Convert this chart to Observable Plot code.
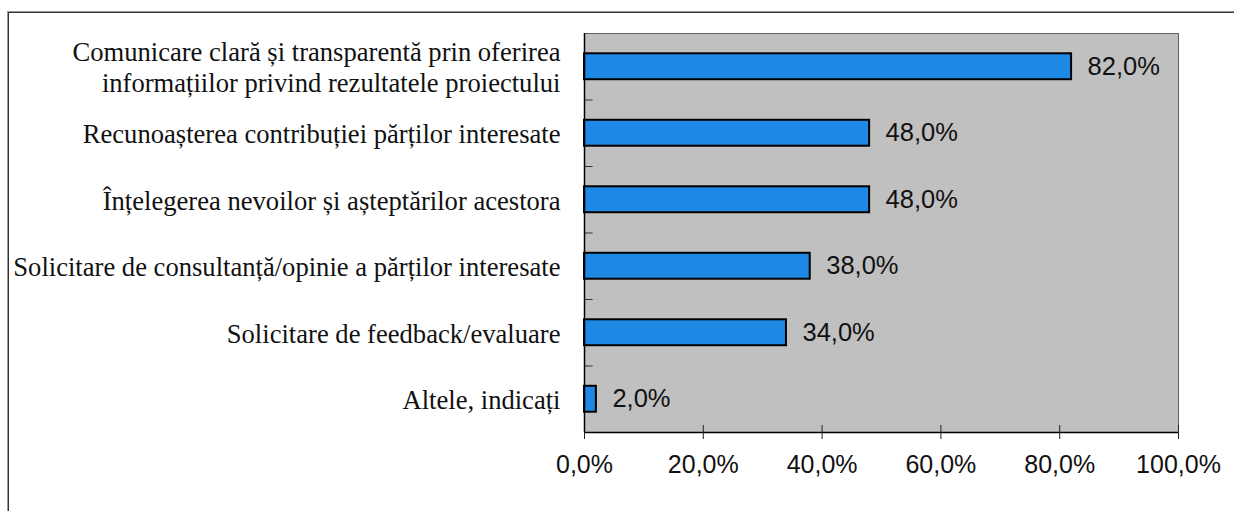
<!DOCTYPE html>
<html>
<head>
<meta charset="utf-8">
<script src="https://cdn.jsdelivr.net/npm/d3@7"></script>
<script src="https://cdn.jsdelivr.net/npm/@observablehq/plot@0.6"></script>
<style>
  body { margin: 0; background: #fff; }
  #wrap { position: relative; width: 1234px; height: 511px; overflow: hidden; }
  #border { position: absolute; left: 8px; top: 12px; width: 1240px; height: 520px;
            border-left: 1px solid #333; border-top: 1px solid #333; box-shadow: -1px -1px 0 #999; }
  #chart { position: absolute; left: 0; top: 0; }
</style>
</head>
<body>
<div id="wrap"><div id="border"></div><div id="chart"></div></div>
<script>
const categories = [
  "Comunicare clară și transparentă prin oferirea\ninformațiilor privind rezultatele proiectului",
  "Recunoașterea contribuției părților interesate",
  "Înțelegerea nevoilor și așteptărilor acestora",
  "Solicitare de consultanță/opinie a părților interesate",
  "Solicitare de feedback/evaluare",
  "Altele, indicați"
];
const values = [82.0, 48.0, 48.0, 38.0, 34.0, 2.0];
const xTicks = [0, 20, 40, 60, 80, 100];
const xTickLabels = ["0,0%", "20,0%", "40,0%", "60,0%", "80,0%", "100,0%"];

const fmt = v => v.toFixed(1).replace(".", ",") + "%";
const data = categories.map((c, i) => ({ i, label: c, value: values[i] }));
const separators = d3.range(1, categories.length);

const plot = Plot.plot({
  width: 1234,
  height: 511,
  marginLeft: 584,
  marginRight: 56,
  marginTop: 33,
  marginBottom: 79,
  style: { background: "transparent", fontSize: "25px" },
  x: { domain: [0, 100], label: null },
  y: { domain: [categories.length, 0], axis: null },
  marks: [
    Plot.frame({ fill: "#c0c0c0", stroke: "#5e5e5e", strokeWidth: 1 }),
    // inward separators on y axis
    Plot.ruleY(separators, { y: d => d, x1: 0, x2: 1.45, stroke: "#333", strokeWidth: 1 }),
    // inward ticks on x axis
    Plot.ruleX(xTicks, { x: d => d, y1: categories.length, y2: categories.length - 0.105, stroke: "#222", strokeWidth: 1 }),
    Plot.rectX(data, {
      x1: 0, x2: "value",
      y1: d => d.i + 0.305, y2: d => d.i + 0.695,
      fill: "#1e88e5", stroke: "#000", strokeWidth: 2
    }),
    Plot.text(data, {
      x: "value", y: d => d.i + 0.5, text: d => fmt(d.value),
      textAnchor: "start", dx: 16, fontSize: 25.5,
      fontFamily: "Liberation Sans, Arial, sans-serif", fill: "#111"
    }),
    Plot.text(data, {
      x: 0, y: d => d.i + 0.5, text: "label",
      textAnchor: "end", dx: -24, fontSize: 26.6, lineHeight: 1.15,
      fontFamily: "Liberation Serif, Times New Roman, serif", fill: "#111"
    }),
    Plot.ruleX([0], { y1: 0, y2: categories.length, stroke: "#000", strokeWidth: 1.5 }),
    Plot.ruleY([categories.length], { x1: 0, x2: 100, stroke: "#000", strokeWidth: 1.5 }),
    Plot.axisX(xTicks, {
      anchor: "bottom", tickSize: 7, tickPadding: 16, label: null,
      tickFormat: (d) => xTickLabels[xTicks.indexOf(d)],
      fontSize: 25, fontFamily: "Liberation Sans, Arial, sans-serif",
      fill: "#111", stroke: "#222"
    })
  ]
});
document.getElementById("chart").appendChild(plot);
</script>
</body>
</html>
